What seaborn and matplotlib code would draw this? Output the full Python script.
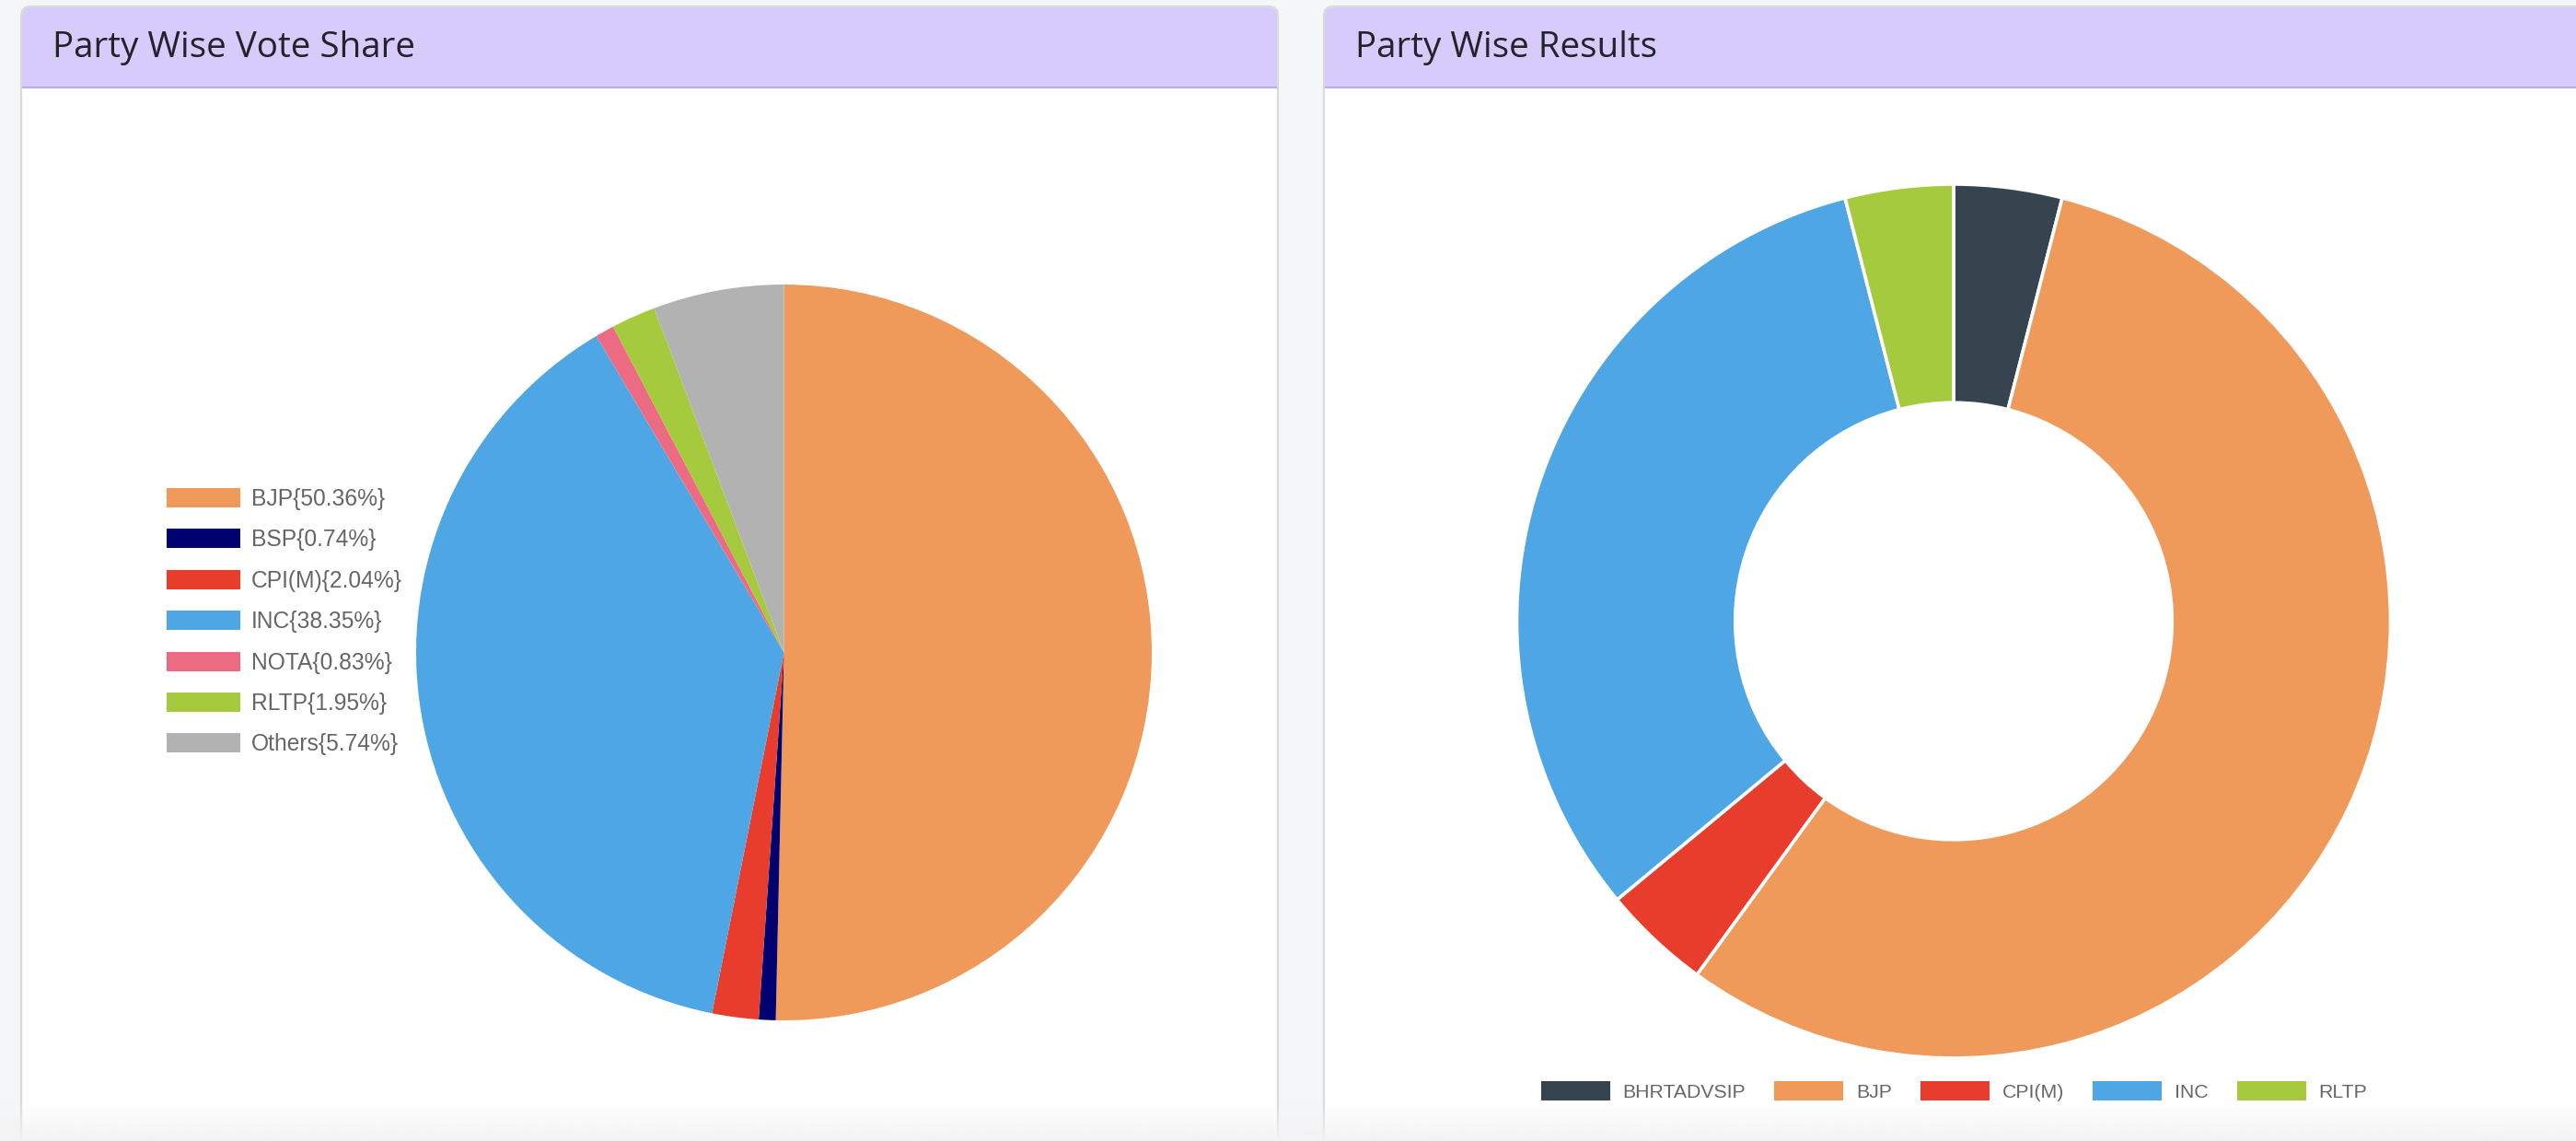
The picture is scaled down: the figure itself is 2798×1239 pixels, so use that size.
import numpy as np
import pandas as pd
import seaborn as sns
import matplotlib
matplotlib.use("Agg")
import matplotlib.pyplot as plt
from matplotlib.patches import FancyBboxPatch, Rectangle, Patch

# ---------------- data ----------------
vote_parties = ["BJP", "BSP", "CPI(M)", "INC", "NOTA", "RLTP", "Others"]
vote_share = [50.36, 0.74, 2.04, 38.35, 0.83, 1.95, 5.74]
vote_colors = ["#ef9a5b", "#000071", "#e83c2d", "#4fa6e5", "#ec6b82", "#a6ca3e", "#b2b2b2"]

seat_parties = ["BHRTADVSIP", "BJP", "CPI(M)", "INC", "RLTP"]
seats_won = [1, 14, 1, 8, 1]
seat_colors = ["#36444f", "#ef9a5b", "#e83c2d", "#4fa6e5", "#a6ca3e"]

titles = ["Party Wise Vote Share", "Party Wise Results"]

vote_df = pd.DataFrame({"party": vote_parties, "share": vote_share})
seat_df = pd.DataFrame({"party": seat_parties, "seats": seats_won})

# ---------------- style ----------------
sns.set_theme(style="white")
plt.rcParams["font.family"] = ["Liberation Sans", "DejaVu Sans"]

W, H, DPI = 2798, 1239, 100
fig = plt.figure(figsize=(W / DPI, H / DPI), dpi=DPI)
fig.patch.set_facecolor("#f5f6f8")


def box(x, y, w, h):
    """pixel box (top-left origin) -> figure fraction rect"""
    return [x / W, 1 - (y + h) / H, w / W, h / H]


# background / panels
ax_bg = fig.add_axes([0, 0, 1, 1], zorder=0)
ax_bg.set_xlim(0, W)
ax_bg.set_ylim(H, 0)
ax_bg.axis("off")

header_fc = "#d6cbfa"
for (px0, pw), title in zip([(23, 1365), (1438, 1420)], titles):
    ax_bg.add_patch(FancyBboxPatch((px0, 7), pw, 1300,
                                   boxstyle="round,pad=0,rounding_size=10",
                                   fc="white", ec="#dadada", lw=1.6))
    ax_bg.add_patch(FancyBboxPatch((px0 + 1, 8), pw - 2, 86,
                                   boxstyle="round,pad=0,rounding_size=9",
                                   fc=header_fc, ec="none"))
    ax_bg.add_patch(Rectangle((px0 + 1, 40), pw - 2, 54, fc=header_fc, ec="none"))
    ax_bg.plot([px0 + 1, px0 + pw - 1], [95, 95], color="#bcaee6", lw=1.6,
               solid_capstyle="butt")
    ax_bg.text(px0 + 34, 52, title, fontsize=27.8, color="#23232b",
               va="center", ha="left", family=["Open Sans", "DejaVu Sans"])

# ---------------- left pie ----------------
ax1 = fig.add_axes(box(452, 309, 799, 799), zorder=2)
pal1 = sns.color_palette(vote_colors)
ax1.pie(vote_df["share"], colors=pal1, startangle=90, counterclock=False,
        radius=1, wedgeprops=dict(linewidth=0, edgecolor="none"))
ax1.set_xlim(-1, 1)
ax1.set_ylim(-1, 1)
ax1.set_aspect("equal")
ax1.axis("off")

handles1 = [Patch(facecolor=c, edgecolor="none") for c in pal1]
labels1 = [f"{p}{{{v:.2f}%}}" for p, v in zip(vote_df["party"], vote_df["share"])]
fs1 = 17.7
fig.legend(handles1, labels1, loc="upper left",
           bbox_to_anchor=(181 / W, 1 - 530 / H), bbox_transform=fig.transFigure,
           frameon=False, fontsize=fs1, labelcolor="#666666",
           handlelength=80 / (fs1 * DPI / 72), handleheight=23 / (fs1 * DPI / 72),
           handletextpad=0.48, labelspacing=0.83, borderpad=0, borderaxespad=0)

# ---------------- right donut ----------------
ax2 = fig.add_axes(box(1647.5, 200, 949, 949), zorder=2)
pal2 = sns.color_palette(seat_colors)
ax2.pie(seat_df["seats"], colors=pal2, startangle=90, counterclock=False,
        radius=1, wedgeprops=dict(width=0.5, linewidth=2.6, edgecolor="white"))
ax2.set_xlim(-1, 1)
ax2.set_ylim(-1, 1)
ax2.set_aspect("equal")
ax2.axis("off")

handles2 = [Patch(facecolor=c, edgecolor="none") for c in pal2]
fs2 = 15.3
fig.legend(handles2, list(seat_df["party"]), loc="center",
           bbox_to_anchor=(2122.5 / W, 1 - 1185 / H), bbox_transform=fig.transFigure,
           ncol=5, frameon=False, fontsize=fs2, labelcolor="#666666",
           handlelength=75 / (fs2 * DPI / 72), handleheight=24 / (fs2 * DPI / 72),
           handletextpad=0.66, columnspacing=1.45, borderpad=0, borderaxespad=0)

# bottom fade
ax_fade = fig.add_axes([0, 0, 1, 1], zorder=20)
ax_fade.set_xlim(0, W)
ax_fade.set_ylim(H, 0)
ax_fade.axis("off")
ax_fade.patch.set_alpha(0)
grad = np.zeros((50, 2, 4))
grad[..., :3] = np.array([0xf3, 0xf3, 0xf4]) / 255
grad[..., 3] = np.linspace(0, 1, 50)[:, None] ** 1.3
ax_fade.imshow(grad, extent=(0, W, H, 1192), aspect="auto", interpolation="bilinear")
ax_fade.set_xlim(0, W)
ax_fade.set_ylim(H, 0)

fig.savefig("out.png", dpi=DPI, facecolor=fig.get_facecolor())
